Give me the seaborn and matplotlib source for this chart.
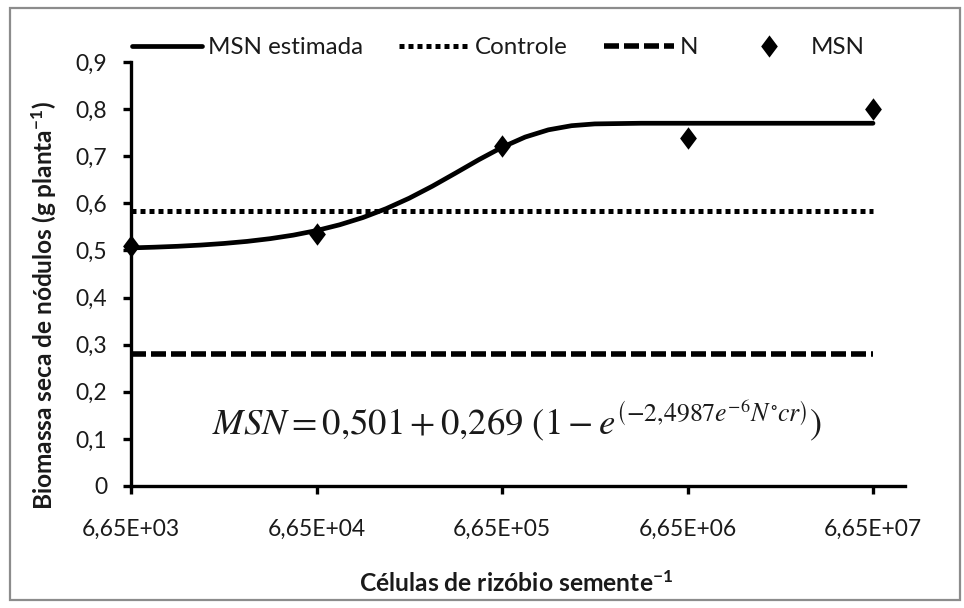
import matplotlib
matplotlib.use("Agg")
import matplotlib.pyplot as plt
import seaborn as sns
import pandas as pd
from matplotlib.ticker import FixedLocator, FuncFormatter, NullLocator
from matplotlib.patches import Rectangle
from matplotlib.lines import Line2D

# ---- data ----
cells = [6.65e3, 6.65e4, 6.65e5, 6.65e6, 6.65e7]
tick_labels = ["6,65E+03", "6,65E+04", "6,65E+05", "6,65E+06", "6,65E+07"]
msn_obs = [0.510, 0.535, 0.722, 0.738, 0.801]
controle = 0.584
n_level = 0.280
curve_N = [6650, 8868, 11826, 15770, 21029, 28043, 37396, 49868, 66500,
           88680, 118260, 157700, 210290, 280430, 373960, 498680, 665000,
           886800, 1182600, 1577000, 2102900, 3739600, 6650000, 66500000]
curve_msn = [0.5054, 0.5069, 0.5088, 0.5114, 0.5148, 0.5192, 0.5250, 0.5325,
             0.5422, 0.5545, 0.5698, 0.5886, 0.6109, 0.6365, 0.6643, 0.6926,
             0.7189, 0.7407, 0.7560, 0.7648, 0.7686, 0.7700, 0.7700, 0.7700]
legend_labels = ["MSN estimada", "Controle", "N", "MSN"]
xlabel = "Células de rizóbio semente$^{\\mathregular{-1}}$"
ylabel = "Biomassa seca de nódulos (g planta$^{\\mathregular{-1}}$)"
equation = (r"$MSN = \mathrm{0{,}501} + \mathrm{0{,}269}\ \left(1 - "
            r"e^{\left(-\mathrm{2{,}4987}e^{-\mathrm{6}}N^{\circ}cr\right)}\right)$")

sns.set_style("white")
plt.rcParams['font.family'] = ['Lato', 'DejaVu Sans']
plt.rcParams['mathtext.fontset'] = 'stix'

W, H = 964, 608
fig = plt.figure(figsize=(W / 100, H / 100), dpi=100)
renderer = fig.canvas.get_renderer()


def fit_size(s, target_px, weight="normal", base=20.0):
    t = fig.text(0, 0, s, fontsize=base, fontweight=weight)
    w = t.get_window_extent(renderer).width
    t.remove()
    return base * target_px / w


fs_tick = fit_size("6,65E+03", 98)
fs_xlab = fit_size("Células de rizóbio semente", 293, "bold")
fs_ylab = fit_size(ylabel, 410, "bold")
fs_leg = fit_size("MSN estimada", 155)
fs_eq = fit_size(equation, 610)

ax = fig.add_axes([131 / W, 1 - 486 / H, (905 - 131) / W, (486 - 62) / H])

dot_style = (0, (1.0, 0.8))
dash_style = (0, (2.7, 0.9))

df_curve = pd.DataFrame({"N": curve_N, "MSN": curve_msn})
sns.lineplot(data=df_curve, x="N", y="MSN", ax=ax, color="black", lw=3.4,
             estimator=None, sort=False)
df_c = pd.DataFrame({"N": [cells[0], cells[-1]], "v": [controle, controle]})
sns.lineplot(data=df_c, x="N", y="v", ax=ax, color="black", lw=3.6,
             linestyle=dot_style, estimator=None)
df_n = pd.DataFrame({"N": [cells[0], cells[-1]], "v": [n_level, n_level]})
sns.lineplot(data=df_n, x="N", y="v", ax=ax, color="black", lw=4.0,
             linestyle=dash_style, estimator=None)

diamond = [(0, 1), (0.75, 0), (0, -1), (-0.75, 0), (0, 1)]
df_obs = pd.DataFrame({"N": cells, "MSN": msn_obs})
sns.scatterplot(data=df_obs, x="N", y="MSN", ax=ax, color="black", marker=diamond,
                s=260, edgecolor="black", linewidth=0, zorder=5, clip_on=False)

ax.set_xscale("log")
ax.set_xlim(cells[0], cells[0] * 10 ** ((905 - 131) / 185.5))
ax.set_ylim(0, 0.9)
ax.xaxis.set_major_locator(FixedLocator(cells))
ax.xaxis.set_minor_locator(NullLocator())
ax.set_xticklabels(tick_labels)
ax.set_yticks([i / 10 for i in range(10)])
ax.yaxis.set_major_formatter(FuncFormatter(
    lambda v, p: "0" if abs(v) < 1e-9 else f"{v:.1f}".replace(".", ",")))

for s in ["top", "right"]:
    ax.spines[s].set_visible(False)
for s in ["left", "bottom"]:
    ax.spines[s].set_linewidth(2.4)
    ax.spines[s].set_color("black")
ax.tick_params(axis="both", direction="out", length=5.5, width=2.4, color="black",
               labelsize=fs_tick, labelcolor="#1a1a1a")
ax.tick_params(axis="x", pad=18.5)
ax.tick_params(axis="y", pad=11.5)
ax.tick_params(bottom=True, left=True)

ax.set_xlabel(xlabel, fontsize=fs_xlab, fontweight="bold", color="#1a1a1a",
              va="center", ha="center")
ax.xaxis.set_label_coords((516 - 131) / 774, (486 - 583) / 424)
ax.set_ylabel(ylabel, fontsize=fs_ylab, fontweight="bold", color="#1a1a1a",
              va="center", ha="center")
ax.yaxis.set_label_coords((44 - 131) / 774, (486 - 305) / 424)

ax.text((517 - 131) / 774, (486 - 421) / 424, equation, transform=ax.transAxes,
        ha="center", va="center", fontsize=fs_eq, color="#1a1a1a")

fpx = fs_leg * 100 / 72
handles = [
    Line2D([], [], color="black", lw=3.4),
    Line2D([], [], color="black", lw=3.6, linestyle=dot_style),
    Line2D([], [], color="black", lw=4.0, linestyle=dash_style),
    Line2D([], [], color="black", marker=diamond, linestyle="none",
           markersize=16, markeredgewidth=0),
]
fig.legend(handles, legend_labels, loc="center left",
           bbox_to_anchor=(132 / W, 1 - 48 / H), ncol=4, frameon=False,
           fontsize=fs_leg, handlelength=70 / fpx, handletextpad=6 / fpx,
           columnspacing=36 / fpx, borderpad=0, borderaxespad=0,
           labelcolor="#1a1a1a")

fig.patches.append(Rectangle((10 / W, 1 - 600 / H), 950 / W, 592 / H,
                             transform=fig.transFigure, fill=False,
                             edgecolor="#8c8c8c", lw=1.6))

fig.savefig("out.png", dpi=100)
